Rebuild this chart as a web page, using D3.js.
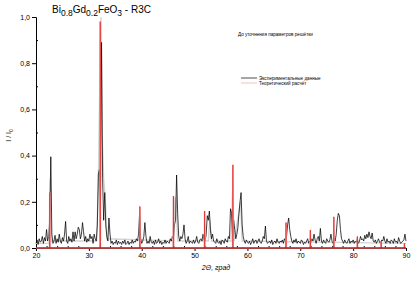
<!DOCTYPE html>
<html>
<head>
<meta charset="utf-8">
<script src="https://cdn.jsdelivr.net/npm/d3@7"></script>
<style>
  body { margin: 0; background: #fff; }
  svg { display: block; font-family: Arial, "Liberation Sans", sans-serif; }
</style>
</head>
<body>
<div id="chart"></div>
<script>
// experimental pattern, 2theta from 20 to 90 step 0.2
const expStart = 20;
const expStep = 0.2;
const expI = [
  0.02,0.035,0.015,0.04,0.025,0.03,0.05,0.02,0.045,0.03,
  0.08,0.03,0.05,0.12,0.395,0.06,0.02,0.03,0.055,0.02,
  0.04,0.025,0.06,0.03,0.02,0.045,0.03,0.06,0.115,0.03,
  0.02,0.05,0.03,0.04,0.025,0.07,0.03,0.07,0.04,0.06,
  0.09,0.08,0.04,0.06,0.11,0.07,0.03,0.05,0.025,0.04,
  0.03,0.06,0.04,0.05,0.02,0.06,0.04,0.03,0.1,0.32,
  0.34,0.2,0.89,0.3,0.12,0.24,0.1,0.05,0.03,0.13,
  0.06,0.02,0.03,0.015,0.025,0.02,0.035,0.015,0.03,0.02,
  0.025,0.015,0.03,0.02,0.035,0.015,0.02,0.03,0.015,0.025,
  0.02,0.035,0.02,0.03,0.025,0.04,0.03,0.06,0.15,0.04,
  0.02,0.03,0.05,0.11,0.05,0.02,0.03,0.02,0.05,0.025,
  0.02,0.03,0.015,0.035,0.02,0.025,0.04,0.02,0.03,0.015,
  0.025,0.02,0.035,0.02,0.03,0.025,0.02,0.04,0.03,0.05,
  0.04,0.1,0.12,0.316,0.15,0.05,0.03,0.05,0.04,0.06,
  0.1,0.04,0.02,0.03,0.05,0.02,0.03,0.025,0.02,0.035,
  0.02,0.03,0.05,0.025,0.02,0.035,0.04,0.03,0.06,0.035,
  0.03,0.06,0.14,0.12,0.16,0.08,0.04,0.06,0.03,0.025,
  0.02,0.04,0.025,0.02,0.03,0.015,0.035,0.03,0.02,0.04,
  0.03,0.025,0.05,0.04,0.17,0.15,0.05,0.12,0.08,0.04,
  0.06,0.09,0.15,0.2,0.24,0.1,0.05,0.03,0.02,0.035,
  0.025,0.02,0.03,0.015,0.025,0.04,0.02,0.03,0.035,0.02,
  0.03,0.04,0.025,0.02,0.03,0.05,0.04,0.095,0.03,0.02,
  0.025,0.03,0.02,0.035,0.015,0.025,0.03,0.02,0.04,0.025,
  0.02,0.03,0.025,0.035,0.02,0.04,0.03,0.05,0.1,0.13,
  0.08,0.05,0.03,0.02,0.035,0.025,0.04,0.02,0.03,0.025,
  0.02,0.035,0.03,0.015,0.025,0.02,0.03,0.04,0.02,0.03,
  0.025,0.04,0.03,0.06,0.035,0.02,0.04,0.05,0.03,0.085,
  0.03,0.02,0.035,0.025,0.02,0.04,0.03,0.025,0.035,0.06,
  0.03,0.02,0.04,0.03,0.06,0.12,0.15,0.14,0.08,0.04,
  0.03,0.02,0.035,0.025,0.02,0.03,0.04,0.02,0.03,0.025,
  0.035,0.02,0.03,0.025,0.04,0.02,0.03,0.05,0.035,0.04,
  0.03,0.055,0.04,0.06,0.045,0.07,0.05,0.04,0.065,0.03,
  0.025,0.035,0.02,0.03,0.04,0.025,0.02,0.035,0.03,0.05,
  0.03,0.02,0.04,0.025,0.03,0.02,0.035,0.03,0.02,0.04,
  0.025,0.03,0.02,0.045,0.03,0.02,0.025,0.03,0.035,0.06,
  0.03
];

// light grey trace around the main reflections
const greyX = [20, 22.5, 22.7, 22.9, 31.5, 31.8, 32.0, 32.3, 32.5, 32.8, 33.1, 33.4, 46.0, 46.3, 46.5, 46.8, 52.6, 52.9, 53.2, 56.9, 57.2, 57.5, 58.7, 59.0, 90];
const greyI = [0.02, 0.02, 0.3, 0.03, 0.03, 0.3, 0.6, 1.0, 0.5, 0.3, 0.22, 0.04, 0.03, 0.22, 0.2, 0.03, 0.03, 0.12, 0.03, 0.03, 0.25, 0.03, 0.2, 0.03, 0.02];

// calculated reflections
const calcPos = [22.6, 32.15, 39.65, 46.0, 51.9, 57.25, 67.3, 71.9, 76.35, 80.8, 85.3, 89.7];
const calcI = [0.24, 0.98, 0.18, 0.225, 0.16, 0.36, 0.11, 0.078, 0.135, 0.05, 0.03, 0.02];

const xTicks = [20, 30, 40, 50, 60, 70, 80, 90];
const yTicks = [0, 0.2, 0.4, 0.6, 0.8, 1.0];

const width = 420, height = 285;
const margin = { top: 17, right: 14, bottom: 37, left: 36 };

const svg = d3.select("#chart").append("svg")
  .attr("width", width)
  .attr("height", height);

const x = d3.scaleLinear().domain([20, 90]).range([margin.left, width - margin.right]);
const y = d3.scaleLinear().domain([0, 1]).range([height - margin.bottom, margin.top]);

const fmt = d => d3.format(".1f")(d).replace(".", ",");

// axes
const xAxis = svg.append("g")
  .attr("transform", `translate(0,${y(0)})`)
  .call(d3.axisBottom(x).tickValues(xTicks).tickSize(3).tickPadding(2).tickFormat(d => d));
xAxis.select(".domain").attr("stroke", "#000");
xAxis.selectAll("text").style("font-size", "7px").attr("fill", "#000");

svg.append("g")
  .attr("transform", `translate(0,${y(0)})`)
  .call(d3.axisTop(x).tickValues(d3.range(22, 90, 2).filter(v => v % 10 !== 0)).tickSize(2).tickFormat(""))
  .call(g => g.select(".domain").remove());

const yAxis = svg.append("g")
  .attr("transform", `translate(${x(20)},0)`)
  .call(d3.axisLeft(y).tickValues(yTicks).tickSize(4).tickPadding(2).tickFormat(fmt));
yAxis.select(".domain").attr("stroke", "#000");
yAxis.selectAll("text").style("font-size", "7px").attr("fill", "#000");

svg.append("g")
  .attr("transform", `translate(${x(20)},0)`)
  .call(d3.axisRight(y).tickValues([0.1, 0.3, 0.5, 0.7, 0.9]).tickSize(2).tickFormat(""))
  .call(g => g.select(".domain").remove());

// series
const expData = expI.map((v, i) => [expStart + i * expStep, v]);
const greyData = greyX.map((v, i) => [v, greyI[i]]);

const line = d3.line().x(d => x(d[0])).y(d => y(d[1]));

svg.append("path")
  .datum(greyData)
  .attr("d", line)
  .attr("fill", "none")
  .attr("stroke", "#d4d4d4")
  .attr("stroke-width", 1.4);

svg.append("path")
  .datum(expData)
  .attr("d", line)
  .attr("fill", "none")
  .attr("stroke", "#000")
  .attr("stroke-width", 0.75);

// calculated profile: narrow peaks on a zero baseline
const calcData = [[20, 0]];
calcPos.forEach((p, i) => {
  calcData.push([p - 0.05, 0], [p, calcI[i]], [p + 0.05, 0]);
});
calcData.push([90, 0]);

svg.append("path")
  .datum(calcData)
  .attr("d", line)
  .attr("fill", "none")
  .attr("stroke", "#f8c4c4")
  .attr("stroke-width", 1.6);

svg.append("path")
  .datum(calcData)
  .attr("d", line)
  .attr("fill", "none")
  .attr("stroke", "#e3201f")
  .attr("stroke-width", 0.7);

svg.append("line")
  .attr("x1", x(20)).attr("x2", x(90))
  .attr("y1", y(0)).attr("y2", y(0))
  .attr("stroke", "#8a1010")
  .attr("stroke-width", 1);

// title with subscripts
const title = svg.append("text")
  .attr("x", 52)
  .attr("y", 13)
  .style("font-size", "10px")
  .attr("fill", "#000");
[["Bi", 0], ["0.8", 1], ["Gd", 0], ["0.2", 1], ["FeO", 0], ["3", 1], [" - R3C", 0]].forEach(([t, sub], i, arr) => {
  const prevSub = i > 0 ? arr[i - 1][1] : 0;
  title.append("tspan")
    .attr("dy", sub === prevSub ? 0 : (sub ? 3 : -3))
    .style("font-size", sub ? "8.5px" : "10px")
    .text(t);
});

// labels
svg.append("text")
  .attr("transform", `translate(11,${y(0.5) + 3}) rotate(-90)`)
  .attr("text-anchor", "middle")
  .style("font-size", "7px")
  .html("I / I<tspan dy='1.5' style='font-size:5px'>0</tspan>");

svg.append("text")
  .attr("x", 216)
  .attr("y", 270)
  .attr("text-anchor", "middle")
  .style("font-size", "7px")
  .style("font-style", "italic")
  .text("2Θ, град");

svg.append("text")
  .attr("x", 238)
  .attr("y", 36)
  .style("font-size", "4.6px")
  .text("До уточнения параметров решётки");

// legend
const legendItems = [
  { name: "Экспериментальные данные", color: "#000" },
  { name: "Теоретический расчёт", color: "#f5a0a0" },
];
const legend = svg.append("g").attr("transform", "translate(241,78)");
legend.selectAll("g")
  .data(legendItems)
  .join("g")
  .attr("transform", (d, i) => `translate(0,${i * 5})`)
  .call(g => g.append("line")
    .attr("x1", 0).attr("x2", 16)
    .attr("stroke", d => d.color)
    .attr("stroke-width", 0.7))
  .call(g => g.append("text")
    .attr("x", 18)
    .attr("y", 1.6)
    .style("font-size", "4.6px")
    .text(d => d.name));
</script>
</body>
</html>
